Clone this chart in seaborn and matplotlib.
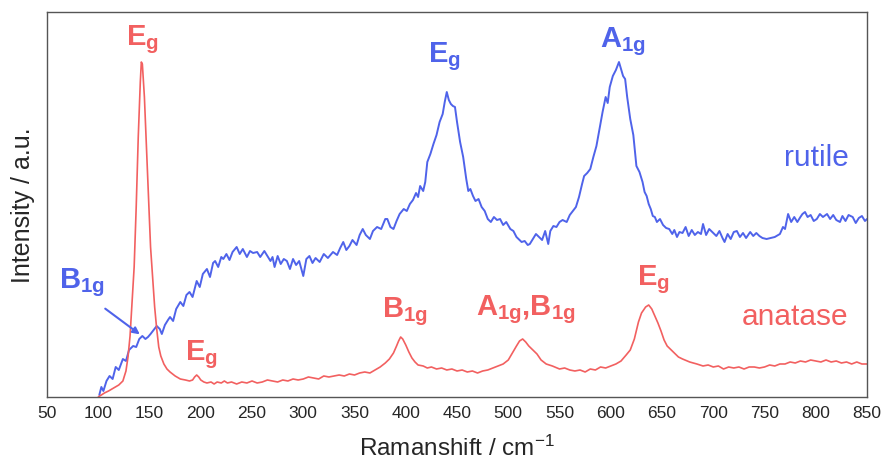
import matplotlib
matplotlib.use("Agg")
import matplotlib.pyplot as plt
import seaborn as sns
import numpy as np
from matplotlib.ticker import MultipleLocator

# rutile spectrum (blue), intensity in arbitrary units
rutile_x = [101, 103, 105, 108, 111, 114, 117, 120, 124, 127, 130, 134, 137, 140, 143, 146, 148.5, 151, 154, 157,
            160, 162, 165, 168, 170, 173, 176, 180, 183, 186, 189, 192, 196, 199, 202, 206, 209, 212, 214, 217,
            220, 222, 225, 228, 231, 235, 238, 241, 245, 248, 251, 255, 258, 262, 265, 268, 270, 272, 275, 278,
            281, 284, 287, 290, 293, 296, 300, 303, 306, 309, 312, 316, 320, 324, 329, 333, 336, 339, 342, 345,
            348, 352, 355, 358, 361, 365, 368, 372, 376, 380, 382, 385, 388, 391, 394, 398, 401, 404, 407, 410,
            412, 414, 417, 419, 421, 424, 427, 430, 433, 436, 438, 440, 442, 444, 446, 448, 450, 453, 456, 459,
            461, 463, 465.6, 468, 471, 474, 477, 480, 483, 486, 489, 492, 495, 498, 502, 505, 508, 511, 513, 516,
            519, 521, 524, 527, 530, 533, 536, 539, 541, 544, 547, 550, 553, 557, 560, 563, 566, 569, 572, 574,
            577, 580, 583, 586, 589, 592, 595, 597, 599, 602, 605, 608, 610, 612, 614, 616, 619, 622, 625, 628,
            631, 633, 635, 637, 639, 641, 643, 645, 648, 651, 654, 657, 660, 662, 664.6, 667, 670, 673, 676, 679,
            682, 685, 688, 690, 693, 696, 699, 703, 706, 709, 711, 714, 717, 720, 723, 726, 729, 732, 736, 739,
            742, 745, 748, 752, 756, 760, 765, 768, 770, 773, 776, 779, 782, 785, 787, 789.5, 792, 795, 798, 801,
            804, 807, 811, 814, 817, 820, 823.6, 826, 829, 832, 836, 839, 842, 845, 848, 850]
rutile_y = [2, 10, 6, 16, 21, 18, 30, 27, 38, 36, 47, 51, 50, 58, 61, 58, 60, 63, 67, 71,
            68, 63, 72, 77, 80, 76, 88, 95, 91, 102, 105, 100, 116, 110, 123, 128, 120, 134, 136, 130,
            140, 138, 143, 137, 145, 150, 143, 148, 140, 146, 144, 145, 140, 146, 141, 136, 140, 130, 141, 133,
            138, 136, 128, 138, 132, 136, 121, 138, 141, 134, 139, 135, 143, 139, 145, 142, 149, 155, 147, 151,
            157, 152, 162, 168, 162, 158, 166, 170, 168, 178, 178, 170, 168, 176, 183, 188, 186, 193, 197, 204,
            200, 211, 206, 215, 235, 243, 253, 262, 275, 283, 295, 305, 297, 293, 291, 290, 275, 255, 240, 218,
            206, 208, 201, 196, 198, 190, 186, 178, 175, 180, 177, 178, 172, 175, 168, 166, 160, 157, 155, 156,
            152, 153, 158, 163, 160, 157, 166, 153, 166, 171, 170, 175, 177, 175, 182, 186, 190, 200, 213, 221,
            224, 228, 240, 251, 268, 285, 300, 294, 310, 321, 327, 335, 328, 321, 318, 300, 278, 262, 231, 225,
            215, 205, 201, 193, 188, 181, 180, 175, 178, 172, 169, 168, 163, 167, 160, 165, 164, 170, 161, 167,
            162, 165, 163, 173, 162, 168, 165, 161, 166, 159, 155, 163, 158, 165, 166, 160, 164, 159, 165, 161,
            164, 161, 159, 158, 159, 160, 163, 170, 168, 183, 175, 180, 175, 180, 183, 185, 180, 182, 176, 178,
            183, 180, 183, 178, 182, 177, 175, 181, 176, 182, 180, 174, 179, 181, 176, 178]

# anatase spectrum (red)
anatase_x = [100, 103, 106, 110, 115, 120, 124, 127, 129, 131, 133, 135, 137, 139, 141, 142, 143, 145, 147, 149,
             151, 153, 155, 157, 159, 161, 164, 167, 170, 175, 180, 185, 189, 192, 194, 196, 198, 200, 203, 206,
             210, 213, 216, 220, 223, 226, 230, 235, 240, 245, 250, 255, 260, 265, 270, 275, 280, 285, 290, 295,
             300, 305, 310, 315, 320, 325, 330, 335, 340, 345, 350, 355, 360, 365, 370, 375,
             380, 384, 388, 391, 393, 395, 397, 400, 403, 406, 409, 412, 417, 421, 425, 430, 435, 440, 445, 450,
             455, 460, 465, 470, 475, 480, 485,
             490, 495, 500, 504, 508, 511, 514, 517, 520, 524, 528, 532, 537, 543, 550, 555, 560, 565, 570, 575,
             580, 585, 590, 595, 600,
             605, 610, 615, 619, 623, 627, 630, 634, 637, 640, 643, 646, 649, 652, 655, 658, 662, 666, 670, 677,
             684, 690, 695, 700, 705, 710, 715, 720, 725, 730, 735, 740, 745, 750, 755, 760, 765, 770, 775, 780,
             785, 790, 795, 800, 805, 810, 815, 820, 825, 830, 835, 840, 845, 850]
anatase_y = [0, 2, 4, 6, 9, 12, 16, 26, 40, 61, 95, 130, 190, 260, 315, 335, 333, 300, 250, 200,
             150, 120, 90, 68, 50, 41, 33, 28, 25, 21, 18, 17, 16, 17, 20, 22, 20, 17, 15, 14,
             15, 13, 15, 14, 16, 14, 15, 13, 15, 14, 16, 14, 15, 17, 16, 15, 17, 16, 18, 17,
             18, 20, 19, 18, 21, 20, 21, 22, 21, 23, 22, 24, 25, 24, 27, 30,
             34, 38, 44, 51, 56, 60, 58, 52, 45, 39, 35, 32, 31, 29, 30, 28, 29, 27, 28, 26,
             27, 25, 26, 24, 26, 27, 29,
             31, 33, 37, 44, 51, 56, 58, 55, 51, 47, 43, 37, 33, 31, 28, 29, 27, 26, 27, 25,
             28, 27, 30, 29, 31,
             33, 36, 42, 47, 58, 75, 84, 90, 92, 88, 81, 74, 66, 57, 51, 48, 44, 40, 38, 35,
             33, 31, 32, 30, 31, 28, 30, 29, 30, 28, 30, 30, 29, 30, 32, 31, 33, 33, 35, 34,
             36, 35, 37, 36, 35, 37, 35, 36, 34, 35, 33, 35, 33, 33]

blue = "#4f63ea"
red = "#f26060"

sns.set_style("white")
plt.rcParams["font.family"] = ["Liberation Sans", "DejaVu Sans"]
plt.rcParams["mathtext.fontset"] = "custom"
plt.rcParams["mathtext.rm"] = "Liberation Sans"
plt.rcParams["mathtext.it"] = "Liberation Sans:italic"
plt.rcParams["mathtext.bf"] = "Liberation Sans:bold"

fig = plt.figure(figsize=(8.84, 4.6), dpi=100)
ax = fig.add_axes([0.0532, 0.1348, 0.9276, 0.8369])

sns.lineplot(x=rutile_x, y=rutile_y, color=blue, lw=1.4, ax=ax)
sns.lineplot(x=anatase_x, y=anatase_y, color=red, lw=1.2, ax=ax)

ax.set_xlim(50, 850)
ax.set_ylim(0, 385)
ax.xaxis.set_major_locator(MultipleLocator(50))
ax.xaxis.set_minor_locator(MultipleLocator(25))
ax.tick_params(axis="x", which="major", direction="out", length=4, width=0.8, color="#555555",
               labelsize=12.5, pad=2)
ax.tick_params(axis="x", which="minor", direction="out", length=2, width=0.8, color="#555555")
ax.set_yticks([])
for sp in ax.spines.values():
    sp.set_color("#555555")
    sp.set_linewidth(1.0)

ax.set_xlabel("Ramanshift / cm$^{-1}$", fontsize=17.5, labelpad=10)
ax.set_ylabel("Intensity / a.u.", fontsize=18, labelpad=9)

fs = 21
# peak labels
ax.text(143, 353, r"$\mathbf{E}_\mathbf{g}$", color=red, fontsize=fs, ha="center", va="baseline")
ax.text(438, 336, r"$\mathbf{E}_\mathbf{g}$", color=blue, fontsize=fs, ha="center", va="baseline")
ax.text(612, 351, r"$\mathbf{A}_\mathbf{1g}$", color=blue, fontsize=fs, ha="center", va="baseline")
ax.text(84, 110, r"$\mathbf{B}_\mathbf{1g}$", color=blue, fontsize=fs, ha="center", va="baseline")
ax.text(201, 38, r"$\mathbf{E}_\mathbf{g}$", color=red, fontsize=fs, ha="center", va="baseline")
ax.text(399, 81, r"$\mathbf{B}_\mathbf{1g}$", color=red, fontsize=fs, ha="center", va="baseline")
ax.text(517, 83, r"$\mathbf{A}_\mathbf{1g}\mathbf{,}\mathbf{B}_\mathbf{1g}$", color=red, fontsize=fs,
        ha="center", va="baseline")
ax.text(642, 113, r"$\mathbf{E}_\mathbf{g}$", color=red, fontsize=fs, ha="center", va="baseline")

ax.annotate("", xy=(142.7, 61), xytext=(104.6, 90),
            arrowprops=dict(arrowstyle="-|>", color=blue, lw=1.5, mutation_scale=10))

ax.text(832, 232, "rutile", color=blue, fontsize=21.5, ha="right", va="baseline")
ax.text(832, 73, "anatase", color=red, fontsize=21.5, ha="right", va="baseline")

fig.savefig("out.png", dpi=100)
